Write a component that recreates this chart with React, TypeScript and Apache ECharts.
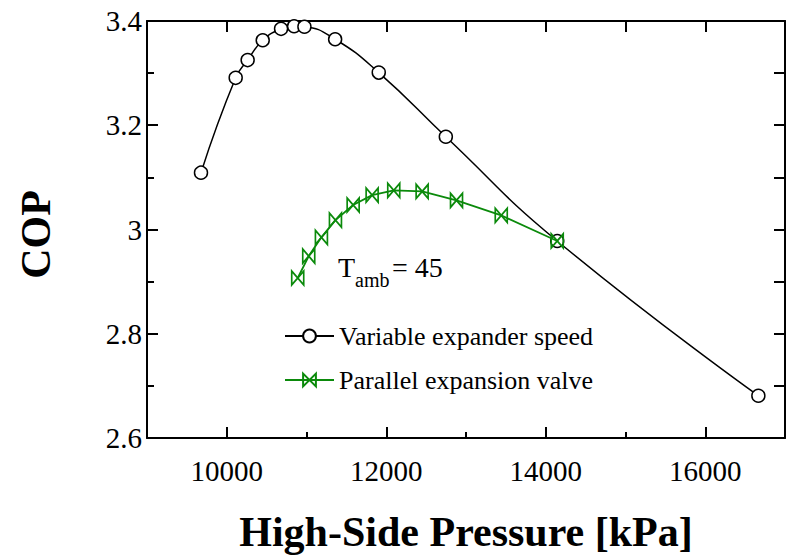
import React, { useEffect, useRef } from "react";
import * as echarts from "echarts";

const pressureVES = [9677, 10112, 10262, 10451, 10681, 10844, 10974, 11359, 11906, 12747, 14144, 16666];
const copVES = [3.109, 3.291, 3.325, 3.363, 3.385, 3.39, 3.389, 3.365, 3.301, 3.178, 2.978, 2.681];

const pressurePEV = [10890, 11028, 11187, 11363, 11585, 11823, 12094, 12450, 12881, 13442, 14144];
const copPEV = [2.907, 2.949, 2.985, 3.018, 3.047, 3.066, 3.075, 3.073, 3.056, 3.027, 2.978];

const xLabelValues = [10000, 12000, 14000, 16000];
const seriesNames = ["Variable expander speed", "Parallel expansion valve"];

const FONT = "'Liberation Serif', 'Times New Roman', serif";
const GREEN = "#0b8a0b";

export default function App() {
  const ref = useRef<HTMLDivElement>(null);
  useEffect(() => {
    document.body.style.margin = "0";
    const chart = echarts.init(ref.current!, null, { renderer: "svg" });
    const axisLine = { show: true, lineStyle: { color: "#000", width: 2 } };
    const xBase = { type: "value" as const, min: 9000, max: 17000, interval: 1000, splitLine: { show: false } };
    chart.setOption({
      animation: false,
      backgroundColor: "#fff",
      grid: { left: 147, right: 3, top: 21, bottom: 117, containLabel: false },
      legend: {
        orient: "vertical",
        left: 284,
        top: 323,
        padding: 0,
        itemWidth: 49,
        itemHeight: 16,
        itemGap: 18,
        data: seriesNames,
        textStyle: { fontFamily: FONT, fontSize: 26, color: "#000", lineHeight: 24 },
      },
      xAxis: [
        {
          ...xBase,
          position: "bottom",
          axisLine,
          axisTick: { inside: true, length: 11, lineStyle: { width: 2, color: "#000" }, customValues: xLabelValues },
          axisLabel: {
            customValues: xLabelValues,
            formatter: (v: number) => String(v),
            fontFamily: FONT,
            fontSize: 29,
            color: "#000",
            margin: 18,
          },
          name: "High-Side Pressure [kPa]",
          nameLocation: "middle",
          nameGap: 73,
          nameTextStyle: { fontFamily: FONT, fontSize: 42, fontWeight: "bold", color: "#000" },
        },
        {
          ...xBase,
          position: "bottom",
          axisLine: { show: false },
          axisTick: { inside: true, length: 6, lineStyle: { width: 2, color: "#000" } },
          axisLabel: { show: false },
        },
        {
          ...xBase,
          position: "top",
          axisLine,
          axisTick: { inside: true, length: 11, lineStyle: { width: 2, color: "#000" } },
          axisLabel: { show: false },
        },
      ],
      yAxis: [
        {
          type: "value",
          min: 2.6,
          max: 3.4,
          interval: 0.2,
          position: "left",
          axisLine,
          splitLine: { show: false },
          axisTick: { inside: true, length: 11, lineStyle: { width: 2, color: "#000" } },
          minorTick: { show: true, splitNumber: 2, length: 7, lineStyle: { width: 2, color: "#000" } },
          axisLabel: { fontFamily: FONT, fontSize: 29, color: "#000", margin: 5 },
          name: "COP",
          nameLocation: "middle",
          nameGap: 90,
          nameRotate: 90,
          nameTextStyle: { fontFamily: FONT, fontSize: 42, fontWeight: "bold", color: "#000", padding: [0, 10, 0, 0] },
        },
        {
          type: "value",
          min: 2.6,
          max: 3.4,
          interval: 0.1,
          position: "right",
          axisLine,
          splitLine: { show: false },
          axisTick: { inside: true, length: 11, lineStyle: { width: 2, color: "#000" } },
          axisLabel: { show: false },
        },
      ],
      graphic: [
        { type: "text", x: 338, y: 267.5, style: { text: "T", fontFamily: FONT, fontSize: 28, fill: "#000", verticalAlign: "middle" } },
        { type: "text", x: 355, y: 280, style: { text: "amb", fontFamily: FONT, fontSize: 20, fill: "#000", verticalAlign: "middle" } },
        { type: "text", x: 392, y: 267.5, style: { text: "= 45", fontFamily: FONT, fontSize: 28, fill: "#000", verticalAlign: "middle" } },
      ],
      series: [
        {
          name: seriesNames[0],
          type: "line",
          xAxisIndex: 0,
          yAxisIndex: 0,
          data: pressureVES.map((p, i) => [p, copVES[i]]),
          smooth: 0.5,
          symbol: "circle",
          symbolSize: 13,
          showAllSymbol: true,
          lineStyle: { color: "#000", width: 1.5 },
          itemStyle: { color: "#fff", borderColor: "#000", borderWidth: 1.5 },
          z: 2,
        },
        {
          name: seriesNames[1],
          type: "line",
          xAxisIndex: 0,
          yAxisIndex: 0,
          data: pressurePEV.map((p, i) => [p, copPEV[i]]),
          symbol: "path://M0,0L0,14L12,0L12,14Z",
          symbolSize: [12, 14],
          showAllSymbol: true,
          lineStyle: { color: GREEN, width: 1.8 },
          itemStyle: { color: "rgba(0,0,0,0)", borderColor: GREEN, borderWidth: 1.8 },
          z: 3,
        },
      ],
    });
    return () => chart.dispose();
  }, []);
  return <div ref={ref} style={{ width: 788, height: 558, position: "absolute", left: 0, top: 0 }} />;
}
